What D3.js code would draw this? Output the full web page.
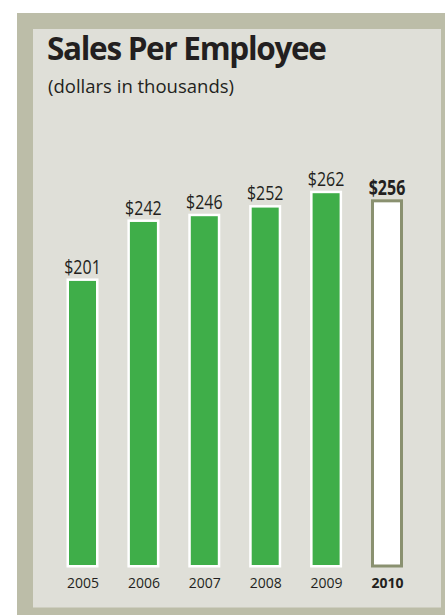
<!DOCTYPE html>
<html>
<head>
<meta charset="utf-8">
<script src="https://cdn.jsdelivr.net/npm/d3@7"></script>
<style>
  body { margin: 0; background: #fff; }
  svg { display: block; }
</style>
</head>
<body>
<div id="chart"></div>
<script>
// data
var years = ["2005", "2006", "2007", "2008", "2009", "2010"];
var sales = [201, 242, 246, 252, 262, 256];
var valueLabels = ["$201", "$242", "$246", "$252", "$262", "$256"];
var highlightYear = "2010";

var width = 445, height = 615;

var svg = d3.select("#chart").append("svg")
  .attr("width", width)
  .attr("height", height);

// frame + panel
svg.append("rect")
  .attr("x", 17).attr("y", 13)
  .attr("width", width - 17).attr("height", height - 13)
  .attr("fill", "#bcbda8");
svg.append("rect")
  .attr("x", 33).attr("y", 29)
  .attr("width", 408).attr("height", 578.5)
  .attr("fill", "#dfdfd8");

svg.append("text")
  .attr("x", 47).attr("y", 60)
  .attr("font-family", "'Open Sans', sans-serif")
  .attr("font-weight", 700)
  .attr("font-size", 31.5)
  .attr("letter-spacing", -1.3)
  .attr("fill", "#231f20")
  .text("Sales Per Employee");

svg.append("text")
  .attr("x", 48).attr("y", 92.5)
  .attr("font-family", "'Open Sans', sans-serif")
  .attr("font-size", 18.5)
  .attr("fill", "#231f20")
  .text("(dollars in thousands)");

var x = d3.scalePoint()
  .domain(years)
  .range([82.5, 387]);

var y = d3.scaleLinear()
  .domain([0, d3.max(sales)])
  .range([567.5, 190.7]);

var barW = 32;

var data = years.map(function(d, i) {
  return { year: d, value: sales[i], label: valueLabels[i] };
});

function sw(d) { return d.year === highlightYear ? 3 : 2.5; }

var bars = svg.append("g").selectAll("g.bar")
  .data(data)
  .enter().append("g")
  .attr("class", "bar");

bars.append("rect")
  .attr("x", function(d) { return x(d.year) - barW / 2 + sw(d) / 2; })
  .attr("y", function(d) { return y(d.value) + sw(d) / 2; })
  .attr("width", function(d) { return barW - sw(d); })
  .attr("height", function(d) { return y(0) - y(d.value) - sw(d); })
  .attr("fill", function(d) { return d.year === highlightYear ? "#ffffff" : "#3fae49"; })
  .attr("stroke", function(d) { return d.year === highlightYear ? "#8a9170" : "#ffffff"; })
  .attr("stroke-width", sw);

// condensed look: squeeze Open Sans horizontally
bars.append("text")
  .attr("transform", function(d) {
    return "translate(" + x(d.year) + "," + (y(d.value) - 4.7) + ") scale(0.78,1)";
  })
  .attr("text-anchor", "middle")
  .attr("font-family", "'Open Sans', sans-serif")
  .attr("font-size", 20.5)
  .attr("font-weight", function(d) { return d.year === highlightYear ? 700 : 400; })
  .attr("fill", "#231f20")
  .text(function(d) { return d.label; });

// year axis, no line or ticks
var xAxis = svg.append("g")
  .attr("transform", "translate(0,574)")
  .call(d3.axisBottom(x).tickSize(0).tickPadding(0));
xAxis.select(".domain").remove();
xAxis.attr("font-size", null).attr("font-family", null);
xAxis.selectAll("text")
  .attr("dy", null)
  .attr("y", 13.5)
  .attr("font-family", "'Open Sans', sans-serif")
  .attr("font-size", 14)
  .attr("font-weight", function(d) { return d === highlightYear ? 700 : 400; })
  .attr("fill", "#231f20");
</script>
</body>
</html>
